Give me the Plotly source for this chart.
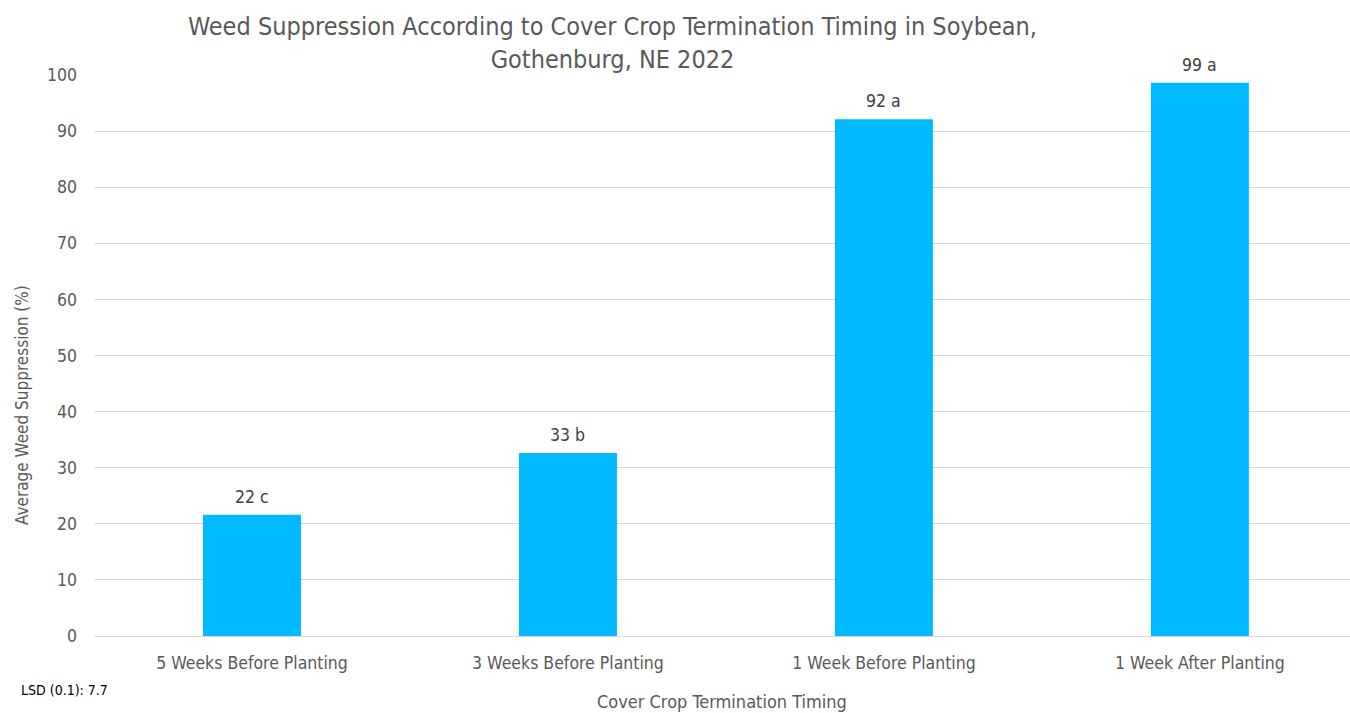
import plotly.graph_objects as go

# Cover crop termination timings and average weed suppression (%)
timings = ["5 Weeks Before Planting", "3 Weeks Before Planting",
           "1 Week Before Planting", "1 Week After Planting"]
suppression = [21.6, 32.6, 92.1, 98.6]
letters = ["c", "b", "a", "a"]
y_ticks = [0, 10, 20, 30, 40, 50, 60, 70, 80, 90, 100]

FONT = "DejaVu Sans Condensed, Roboto, sans-serif"
GREY = "#595959"

xs = list(range(len(timings)))
labels = [f"{round(v)} {l}" for v, l in zip(suppression, letters)]

fig = go.Figure(go.Bar(
    x=xs,
    y=suppression,
    width=0.31,
    marker=dict(color="#00BAFF", line=dict(width=0)),
    hoverinfo="skip",
))

# value + significance letter above each bar
bar_labels = [
    dict(x=x, y=v, text=t, xref="x", yref="y", showarrow=False,
         xanchor="center", yanchor="middle", yshift=18,
         font=dict(family=FONT, size=17.5, color="#404040"))
    for x, v, t in zip(xs, suppression, labels)
]

fig.update_layout(
    width=1350, height=713,
    margin=dict(l=94, r=0, t=75, b=77),
    paper_bgcolor="white", plot_bgcolor="white",
    showlegend=False,
    font=dict(family=FONT, color=GREY),
    xaxis=dict(
        range=[-0.5, 3.475],
        tickmode="array",
        tickvals=xs,
        ticktext=timings,
        tickfont=dict(size=17.5, color=GREY),
        showgrid=False, zeroline=False,
        showline=False,
        ticks="",
        ticklabelstandoff=14,
    ),
    yaxis=dict(
        range=[0, 100],
        tickmode="array",
        tickvals=y_ticks,
        tickfont=dict(size=17.5, color=GREY),
        showgrid=True, gridcolor="#d9d9d9", gridwidth=1,
        zeroline=True, zerolinecolor="#d9d9d9", zerolinewidth=1,
        ticks="",
        ticklabelstandoff=16,
    ),
    annotations=bar_labels + [
        dict(text="Weed Suppression According to Cover Crop Termination Timing in Soybean,<br>Gothenburg, NE 2022",
             xref="paper", yref="paper", x=(612 - 94) / 1256, y=1, yshift=-1,
             xanchor="center", yanchor="bottom", showarrow=False,
             font=dict(family=FONT, size=25, color=GREY)),
        dict(text="Average Weed Suppression (%)",
             xref="paper", yref="paper", x=0, xshift=-72, y=(636 - 405) / 561,
             xanchor="center", yanchor="middle", textangle=-90, showarrow=False,
             font=dict(family=FONT, size=17, color=GREY)),
        dict(text="Cover Crop Termination Timing",
             xref="paper", yref="paper", x=0.5, y=0, yshift=-65,
             xanchor="center", yanchor="middle", showarrow=False,
             font=dict(family=FONT, size=18, color=GREY)),
        dict(text="LSD (0.1): 7.7",
             xref="paper", yref="paper", x=0, xshift=-75, y=0, yshift=-54,
             xanchor="left", yanchor="middle", showarrow=False,
             font=dict(family=FONT, size=14, color="#000000")),
    ],
)

fig.write_html("out.html")
